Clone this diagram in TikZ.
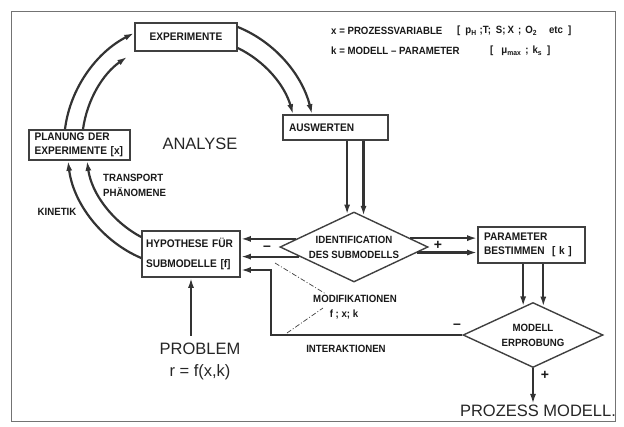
\documentclass[tikz,border=0pt]{standalone}
\usepackage{fontspec}
\setmainfont{Liberation Sans}
\newfontfamily\cnd{Liberation Sans}[FakeStretch=0.92]
\usetikzlibrary{shapes.geometric,arrows.meta,calc}
\tikzset{
  boxnode/.style={draw=black!75, line width=1.6pt, fill=white, text=black!90,
    font=\cnd\bfseries\fontsize{11}{14}\selectfont, align=left, inner xsep=6pt, inner ysep=2pt},
  dia/.style={draw=black!75, line width=1.4pt, shape=diamond, aspect=2, inner sep=0pt,
    fill=white, text=black!90, align=center, font=\cnd\bfseries\fontsize{10.5}{15}\selectfont},
  arr/.style={draw=black!80, line width=2.2pt, -{Latex[length=10pt,width=6pt]}},
  lbl/.style={text=black!90, font=\cnd\bfseries\fontsize{10.5}{15}\selectfont, inner sep=1pt},
  big/.style={text=black!85, font=\fontsize{16.5}{22}\selectfont, inner sep=1pt},
  sgn/.style={text=black!90, font=\bfseries\fontsize{14}{14}\selectfont, inner sep=0pt},
  dd/.style={draw=black!75, line width=0.7pt, dash pattern=on 5pt off 2pt on 1pt off 2pt},
}
\begin{document}
\begin{tikzpicture}[x=1pt,y=1pt]
\useasboundingbox (0,0) rectangle (624,-426);
\draw[black!55, line width=0.8pt] (11,-11) rectangle (615,-421);

% boxes
\node[boxnode, minimum width=102pt, minimum height=28pt, align=center] (exp) at (186,-37) {EXPERIMENTE};
\node[boxnode, text width=90pt, minimum height=30pt, inner xsep=5.5pt] (plan) at (79.5,-145) {PLANUNG DER\\EXPERIMENTE [x]};
\node[boxnode, text width=93pt, minimum height=25pt] (aus) at (335.5,-127.5) {AUSWERTEN};
\node[boxnode, text width=90pt, minimum height=46pt, inner xsep=4pt,
      font=\cnd\bfseries\fontsize{11}{20}\selectfont] (hyp) at (191,-254) {HYPOTHESE FÜR\\SUBMODELLE [f]};
\node[boxnode, text width=95pt, minimum height=36pt] (par) at (531.5,-245) {PARAMETER\\BESTIMMEN\ \ [ k ]};

% diamonds
\node[dia, minimum width=148pt, minimum height=70pt] (idf) at (354,-247) {IDENTIFICATION\\DES SUBMODELLS};
\node[dia, minimum width=140pt, minimum height=65pt] (mod) at (533,-335) {MODELL\\ERPROBUNG};

% texts
\node[big] (ana) at (200,-144) {ANALYSE};
\node[lbl] (kin) at (57,-212) {KINETIK};
\node[lbl, anchor=west, align=left] (trp) at (102,-185) {TRANSPORT\\PHÄNOMENE};
\node[lbl] (modl) at (355,-299) {MODIFIKATIONEN};
\node[lbl] (fxk) at (344,-315) {f ; x; k};
\node[lbl] (inter) at (346,-349) {INTERAKTIONEN};
\node[big, align=center] (prob) at (200,-361) {PROBLEM\\r = f(x,k)};
\node[big] (pm) at (538,-411) {PROZESS MODELL.};
\node[lbl, anchor=west] (lg1) at (330,-31) {x = PROZESSVARIABLE};
\node[lbl, anchor=west] (lg1b) at (456,-31) {[\hspace{5pt}p\textsubscript{H}\hspace{3pt};T;\hspace{5pt}S;\hspace{2pt}X\hspace{4pt};\hspace{4pt}O\textsubscript{2}\hspace{12pt}etc\hspace{5pt}]};
\node[lbl, anchor=west] (lg2) at (330,-51) {k = MODELL – PARAMETER};
\node[lbl, anchor=west] (lg2b) at (489,-51) {[\hspace{8pt}μ\textsubscript{max}\hspace{4pt};\hspace{4pt}k\textsubscript{s}\hspace{5pt}]};

\node[sgn] (m1) at (267,-248) {–};
\node[sgn] (p1) at (438,-245) {+};
\node[sgn] (m2) at (457,-326) {–};
\node[sgn] (p2) at (545,-375) {+};

% big loop arcs
\coordinate (aAo1) at ($(hyp.west)+(0,-4)$);
\coordinate (aAo2) at ($(plan.south)+(-11.5,0)$);
\coordinate (aAi1) at ($(hyp.west)+(0,17)$);
\coordinate (aAi2) at ($(plan.south)+(7.5,0)$);
\draw[arr] (aAo1) to[out=157,in=277,looseness=0.9] (aAo2);
\draw[arr] (aAi1) to[out=152,in=278,looseness=0.9] (aAi2);

\coordinate (aBo1) at ($(plan.north)+(-14.5,0)$);
\coordinate (aBo2) at ($(exp.west)+(0,4)$);
\coordinate (aBi1) at ($(plan.north)+(3.5,0)$);
\coordinate (aBi2) at ($(exp.south west)+(-7,-5)$);
\draw[arr] (aBo1) to[out=83,in=207,looseness=0.9] (aBo2);
\draw[arr] (aBi1) to[out=82,in=215,looseness=0.9] (aBi2);

\coordinate (aCo1) at ($(exp.east)+(0,10)$);
\coordinate (aCo2) at ($(aus.north)+(-23.5,0)$);
\coordinate (aCi1) at ($(exp.east)+(0,-11)$);
\coordinate (aCi2) at ($(aus.north)+(-42.5,0)$);
\draw[arr] (aCo1) to[out=-22,in=104,looseness=0.9] (aCo2);
\draw[arr] (aCi1) to[out=-26,in=106,looseness=0.9] (aCi2);

% straight connectors
\draw[arr] (idf.102.5 |- aus.south) -- (idf.102.5);
\draw[arr] (idf.73.7 |- aus.south) -- (idf.73.7);
\draw[arr] (idf.172) -- (idf.172 -| hyp.east);
\draw[arr] (idf.190.7) -- (idf.190.7 -| hyp.east);
\draw[arr] (idf.9.3) -- (idf.9.3 -| par.west);
\draw[arr] (idf.-5.6) -- (idf.-5.6 -| par.west);
\draw[arr] (mod.109.7 |- par.south) -- (mod.109.7);
\draw[arr] (mod.70.3 |- par.south) -- (mod.70.3);
\coordinate (fbc) at (271,-270);
\draw[arr] (mod.west) -| (fbc) -- (fbc -| hyp.east);
\coordinate (pst) at ($(hyp.south)+(0,-58)$);
\draw[arr] (pst) -- (hyp.south);
\draw[arr] (mod.south) -- (mod.south |- pm.north);

% dash-dot pointers
\coordinate (d1a) at (275,-263);
\coordinate (d1b) at (326,-294);
\coordinate (d2a) at (287,-333);
\coordinate (d2b) at (323,-308);
\draw[dd] (d1a) -- (d1b);
\draw[dd] (d2a) -- (d2b);
\end{tikzpicture}
\end{document}
